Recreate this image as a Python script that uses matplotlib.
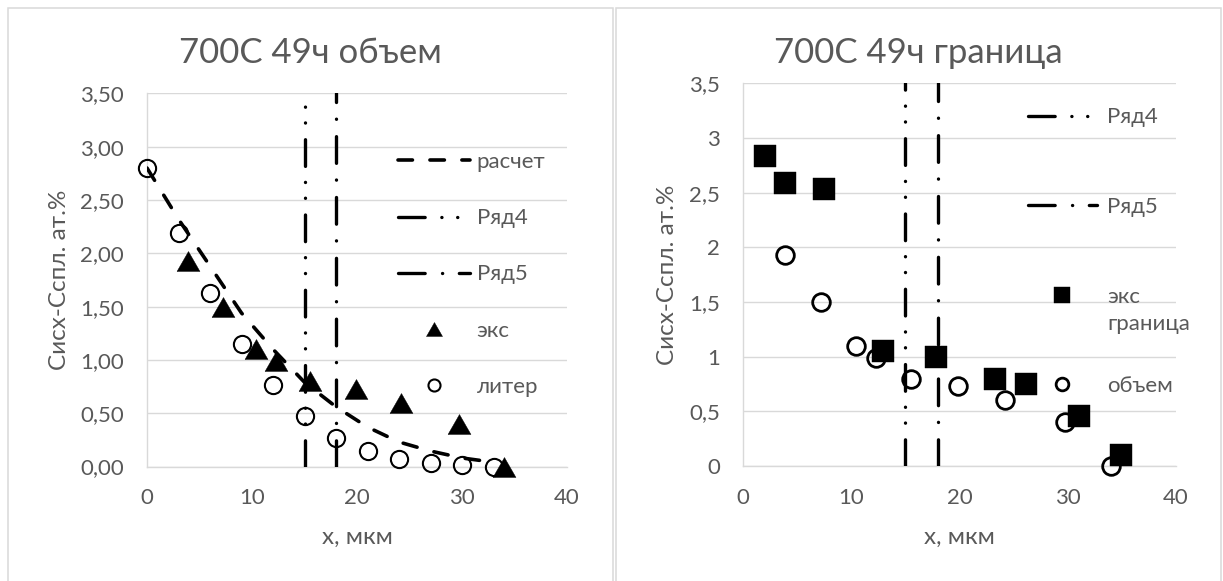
import matplotlib
matplotlib.use("Agg")
import matplotlib.pyplot as plt
from matplotlib.patches import Rectangle

plt.rcParams['font.family'] = ['Lato', 'DejaVu Sans']
plt.rcParams['lines.scale_dashes'] = False

# ---- data -------------------------------------------------------------
lit_x = [0, 3, 6, 9, 12, 15, 18, 21, 24, 27, 30, 33]
lit_y = [2.80, 2.19, 1.63, 1.15, 0.76, 0.47, 0.27, 0.15, 0.07, 0.03, 0.01, 0.00]

calc_x = [0, 3, 6, 9, 12, 15, 18, 21, 24, 27, 30, 33]
calc_y = [2.80, 2.32, 1.88, 1.44, 1.10, 0.79, 0.56, 0.37, 0.23, 0.145, 0.08, 0.04]

bulk_x = [3.9, 7.2, 10.4, 12.3, 15.5, 19.9, 24.2, 29.7, 34.0]
bulk_y = [1.93, 1.50, 1.10, 0.99, 0.80, 0.73, 0.60, 0.40, 0.00]

gb_x = [2.0, 3.9, 7.5, 12.9, 17.8, 23.3, 26.1, 31.0, 34.9]
gb_y = [2.84, 2.59, 2.53, 1.05, 1.00, 0.80, 0.75, 0.46, 0.10]

row4_x = [15, 15]
row4_y = [0, 3.5]
row5_x = [18, 18]
row5_y = [0, 3.5]

x_ticks = [0, 10, 20, 30, 40]
y_ticks = [0, 0.5, 1.0, 1.5, 2.0, 2.5, 3.0, 3.5]
left_ylabels = ['0,00', '0,50', '1,00', '1,50', '2,00', '2,50', '3,00', '3,50']
right_ylabels = ['0', '0,5', '1', '1,5', '2', '2,5', '3', '3,5']

left_title = '700C 49ч объем'
right_title = '700C 49ч граница'
x_label = 'x, мкм'
y_label = 'Сисх-Сспл. ат.%'

# ---- styling -------------------------------------------------------------
TEXT = '#595959'
GRID = '#D9D9D9'
W, H = 1223, 581
TICK_FS = 16
LEG_FS = 16
LABEL_FS = 17.5
TITLE_FS = 25

R4_STYLE = (0, (19.2, 12.0, 0.1, 11.3, 0.1, 11.5))
R5_STYLE = (0, (19.2, 12.5, 0.1, 12.0))
CALC_STYLE = (0, (10.4, 12.6))
TRI = [(-1, -0.87), (1, -0.87), (0, 0.87), (-1, -0.87)]

fig = plt.figure(figsize=(W / 100, H / 100), dpi=100)

# chart frames
for x0, x1 in [(8, 613), (616, 1221)]:
    fig.add_artist(Rectangle((x0 / W, -0.1), (x1 - x0) / W, 1.1 - 8 / H,
                             transform=fig.transFigure, fill=False,
                             edgecolor=GRID, linewidth=1.1))


def px_axes(left, right, top, bottom):
    return fig.add_axes([left / W, 1 - bottom / H, (right - left) / W, (bottom - top) / H])


def style_axes(ax, ylabels, top_px, bottom_px, left_px, right_px, ylabel_px):
    ax.set_xlim(0, 40)
    ax.set_ylim(0, 3.5)
    ax.set_xticks(x_ticks)
    ax.set_yticks(y_ticks)
    ax.set_yticklabels(ylabels)
    ax.grid(axis='y', color=GRID, linewidth=1.0)
    ax.grid(axis='x', visible=False)
    ax.set_axisbelow(True)
    for s in ['top', 'right']:
        ax.spines[s].set_visible(False)
    for s in ['left', 'bottom']:
        ax.spines[s].set_color(GRID)
        ax.spines[s].set_linewidth(1.0)
    ax.tick_params(axis='both', length=0, labelsize=TICK_FS, colors=TEXT)
    ax.tick_params(axis='x', pad=15.5)
    ax.tick_params(axis='y', pad=16.6)
    ax.set_xlabel(x_label, fontsize=LABEL_FS, color=TEXT, va='center')
    ax.set_ylabel(y_label, fontsize=LABEL_FS, color=TEXT, va='center')
    hpx = bottom_px - top_px
    wpx = right_px - left_px
    ax.xaxis.set_label_coords(0.5, -(537.5 - bottom_px) / hpx)
    ax.yaxis.set_label_coords(-(left_px - ylabel_px) / wpx, 0.5)


# ---- left chart ----------------------------------------------------------
L = dict(left_px=147, right_px=567, top_px=93.4, bottom_px=466.5)
ax1 = px_axes(L['left_px'], L['right_px'], L['top_px'], L['bottom_px'])
style_axes(ax1, left_ylabels, L['top_px'], L['bottom_px'], L['left_px'], L['right_px'], 59)

h_lit, = ax1.plot(lit_x, lit_y, linestyle='none', marker='o', ms=12.4,
                  mfc='none', mec='black', mew=1.5, clip_on=False, zorder=3)
h_calc, = ax1.plot(calc_x, calc_y, color='black', lw=2.6, linestyle=CALC_STYLE,
                   dash_capstyle='round', zorder=4)
h_r4, = ax1.plot(row4_x, row4_y, color='black', lw=2.4, linestyle=R4_STYLE,
                 dash_capstyle='round', zorder=4)
h_r5, = ax1.plot(row5_x, row5_y, color='black', lw=2.4, linestyle=R5_STYLE,
                 dash_capstyle='round', zorder=4)
h_exp, = ax1.plot(bulk_x, bulk_y, linestyle='none', marker=TRI, ms=16.5,
                  mfc='black', mec='black', mew=0.3, clip_on=False, zorder=5)

ax1.legend([h_calc, h_r4, h_r5, h_exp, h_lit],
           ['расчет', 'Ряд4', 'Ряд5', 'экс', 'литер'],
           loc='center left', bbox_to_anchor=(398 / W, 1 - 274.5 / H),
           bbox_transform=fig.transFigure, frameon=False, fontsize=LEG_FS,
           handlelength=3.24, handletextpad=0.3, labelspacing=1.63,
           borderpad=0, borderaxespad=0, markerscale=0.7, labelcolor=TEXT)

fig.text(310.5 / W, 1 - 63.3 / H, left_title, ha='center', va='baseline',
         fontsize=TITLE_FS, color=TEXT)

# ---- right chart ---------------------------------------------------------
R = dict(left_px=743, right_px=1176, top_px=83.4, bottom_px=466.0)
ax2 = px_axes(R['left_px'], R['right_px'], R['top_px'], R['bottom_px'])
style_axes(ax2, right_ylabels, R['top_px'], R['bottom_px'], R['left_px'], R['right_px'], 668)

h2_r4, = ax2.plot(row4_x, row4_y, color='black', lw=2.4, linestyle=R4_STYLE,
                  dash_capstyle='round', zorder=3)
h2_r5, = ax2.plot(row5_x, row5_y, color='black', lw=2.4, linestyle=R5_STYLE,
                  dash_capstyle='round', zorder=3)
h2_bulk, = ax2.plot(bulk_x, bulk_y, linestyle='none', marker='o', ms=12.7,
                    mfc='none', mec='black', mew=2.0, clip_on=False, zorder=4)
h2_gb, = ax2.plot(gb_x, gb_y, linestyle='none', marker='s', ms=15.5,
                  mfc='black', mec='black', mew=0.3, clip_on=False, zorder=5)

leg2 = ax2.legend([h2_r4, h2_r5, h2_gb, h2_bulk],
                  ['Ряд4', 'Ряд5', 'экс', 'объем'],
                  loc='center left', bbox_to_anchor=(1028 / W, 1 - 251.8 / H),
                  bbox_transform=fig.transFigure, frameon=False, fontsize=LEG_FS,
                  handlelength=3.1, handletextpad=0.45, labelspacing=3.13,
                  borderpad=0, borderaxespad=0, markerscale=0.72, labelcolor=TEXT)
# second line of the wrapped series name
ax2.annotate('граница', xy=(0, 0), xycoords=leg2.get_texts()[2],
             xytext=(0, -17), textcoords='offset points', ha='left', va='baseline',
             fontsize=LEG_FS, color=TEXT, zorder=10, annotation_clip=False)

fig.text(918.5 / W, 1 - 63.3 / H, right_title, ha='center', va='baseline',
         fontsize=TITLE_FS, color=TEXT)

fig.savefig('out.png', dpi=100, facecolor='white')
